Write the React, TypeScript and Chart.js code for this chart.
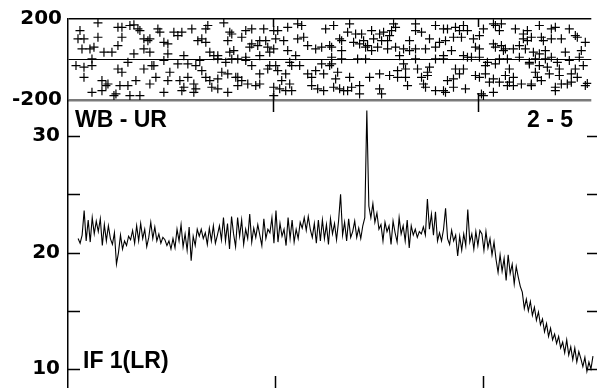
import React, { useEffect, useRef } from "react";
import { Chart, registerables } from "chart.js";

Chart.register(...registerables);

// ---- Data ----
// Amplitude spectrum (channel 0..255)
const amplitude: number[] = [
  21.2, 20.8, 21.5, 23.6, 21.0, 22.8, 20.9, 23.0, 21.6, 22.7,
  21.8, 22.9, 20.6, 22.4, 21.0, 22.3, 21.2, 20.7, 21.7, 19.0,
  20.0, 21.5, 20.3, 21.0, 20.6, 21.4, 21.1, 21.9, 20.8, 22.3,
  21.0, 22.5, 21.2, 22.0, 20.5, 21.3, 22.6, 21.2, 22.2, 21.0,
  21.6, 20.8, 21.3, 21.1, 20.6, 21.0, 20.3, 21.2, 20.4, 22.0,
  21.0, 22.4, 20.5, 21.6, 20.2, 22.2, 19.3, 21.4, 20.6, 22.0,
  21.4, 22.0, 21.2, 21.7, 20.7, 22.1, 21.0, 22.3, 20.8, 21.5,
  22.3, 21.1, 23.0, 21.0, 22.5, 20.3, 23.1, 21.6, 20.5, 23.0,
  21.4, 22.8, 20.7, 22.0, 21.2, 23.3, 20.9, 22.1, 21.3, 22.4,
  21.5, 20.6, 22.9, 21.2, 22.0, 21.7, 23.0, 20.8, 23.6, 20.9,
  22.5, 21.4, 22.0, 20.6, 23.0, 21.2, 22.8, 20.9, 22.0, 21.2,
  22.6, 22.1, 23.0, 21.9, 23.1, 22.0, 21.3, 22.5, 20.8, 22.8,
  21.0, 22.8, 21.2, 22.4, 20.7, 22.9, 21.6, 22.5, 21.1, 22.7,
  25.0, 21.5, 22.6, 21.0, 22.9, 21.3, 21.8, 22.7, 21.3, 22.1,
  21.2, 22.3, 23.0, 32.2, 24.0, 23.0, 24.2, 22.6, 23.4, 22.0,
  22.4, 21.0, 22.6, 21.8, 22.3, 20.7, 22.7, 21.7, 20.9, 23.0,
  21.6, 22.3, 21.0, 22.8, 20.4, 22.3, 21.5, 22.0, 21.3, 21.8,
  21.6, 22.2, 21.5, 24.6, 22.0, 23.3, 21.5, 23.5, 21.0, 21.7,
  21.0, 22.0, 23.8, 21.2, 20.7, 21.9, 21.0, 21.5, 19.7, 21.4,
  20.2, 21.6, 20.6, 23.7, 20.9, 21.6, 20.3, 21.8, 20.6, 21.9,
  21.6, 20.2, 21.8, 20.4, 21.2, 19.8, 20.9, 19.4, 18.3, 19.8,
  18.4, 19.5, 17.6, 19.8, 18.2, 19.0, 17.3, 18.8, 17.9, 17.1,
  16.6, 15.2, 16.0, 15.0, 15.8, 14.6, 15.3, 14.2, 14.9, 13.8,
  14.3, 13.2, 13.9, 12.8, 13.5, 12.5, 13.0, 12.2, 12.8, 11.8,
  12.3, 11.4, 12.5, 11.2, 11.9, 10.8, 11.8, 10.6, 11.5, 10.9,
  10.2, 11.0, 9.8, 10.6, 10.0, 11.1,
];

// Phase scatter: [channel, degrees]
const phasePairs: [number, number][] = [
  [1,143],[10,181],[20,159],[22,159],[26,168],[28,171],[30,151],[31,143],[40,151],[41,135],[48,135],[50,118],[52,135],[57,151],[60,93],
  [0,102],[3,102],[10,110],[22,110],[33,102],[35,93],[36,102],[43,85],[45,77],
  [2,52],[6,52],[8,61],[13,36],[17,36],[20,69],[28,28],[33,52],[36,36],[45,28],[53,19],[7,3],
  [-1,-30],[3,-38],[7,-30],[25,-14],[38,-30],[43,-5],[50,-22],[55,-22],[59,-30],
  [3,-88],[20,-47],[22,-63],[33,-47],[37,-30],[46,-63],[51,-104],[55,-88],[58,-121],
  [12,-104],[14,-129],[15,-121],[21,-129],[25,-129],[29,-104],[36,-121],[39,-88],[45,-104],[53,-137],[59,-145],
  [7,-162],[12,-154],[18,-178],[19,-170],[26,-178],[31,-178],[43,-162],[52,-154],[58,-162],
  [64,151],[65,168],[73,181],[76,135],[77,126],[84,143],[87,151],[93,151],[98,143],[100,143],[105,159],[110,176],[112,168],[124,151],
  [62,102],[75,93],[82,110],[87,77],[91,93],[94,93],[99,102],[103,93],[110,102],[113,110],
  [64,85],[86,61],[90,69],[95,61],[98,52],[115,69],[119,52],[122,61],[126,69],
  [66,36],[68,19],[70,19],[76,36],[78,44],[84,11],[91,19],[96,36],[105,44],[109,19],
  [61,-5],[70,3],[74,-14],[77,3],[80,3],[84,-5],[96,-30],[99,-30],[106,-14],[107,-30],[111,-30],[122,-22],[126,-30],
  [62,-55],[72,-63],[75,-71],[80,-88],[87,-30],[91,-71],[95,-47],[100,-55],[104,-71],[115,-71],[119,-55],[123,-71],
  [64,-88],[66,-104],[70,-96],[79,-88],[82,-104],[85,-121],[89,-129],[91,-121],[102,-104],[106,-121],[117,-88],
  [67,-137],[70,-145],[75,-162],[80,-129],[98,-137],[101,-145],[104,-154],[107,-154],[117,-129],[120,-145],[123,-154],
  [98,-178],
  [128,168],[136,176],[135,135],[139,126],[142,126],[147,143],[151,126],[153,135],[157,143],[158,176],[159,159],[169,176],[169,143],[172,135],[179,168],[183,151],[185,151],[189,159],[191,143],
  [131,102],[132,93],[138,85],[141,77],[143,93],[145,69],[148,102],[152,93],[155,93],[156,118],[166,93],[176,102],[181,85],[184,93],[188,110],
  [127,61],[132,44],[144,61],[147,44],[150,61],[155,52],[159,61],[163,52],[166,44],[169,52],[174,52],[179,61],[183,19],[187,44],
  [127,11],[132,3],[140,3],[144,3],[161,19],[169,3],[179,3],[183,3],
  [127,-22],[163,-22],[164,-47],[170,-47],[176,-38],[189,-47],
  [130,-63],[160,-55],[175,-63],[191,-71],
  [129,-96],[136,-88],[146,-88],[151,-71],[156,-79],[160,-88],[164,-88],[172,-88],[175,-79],[185,-104],[188,-96],
  [128,-137],[131,-145],[133,-154],[135,-154],[137,-137],[141,-129],[141,-170],[151,-145],[152,-170],[165,-129],[173,-121],[174,-137],[179,-154],[183,-154],[184,-162],[188,-137],
  [193,168],[195,143],[203,151],[208,176],[209,168],[212,176],[211,143],[219,151],[223,126],[225,143],[231,168],[237,151],[239,159],[246,151],[249,118],[254,85],
  [192,110],[198,102],[201,118],[208,77],[212,69],[214,52],[221,69],[223,102],[225,93],[227,110],[232,110],[233,93],[237,102],[242,102],[250,110],
  [199,61],[201,52],[209,61],[213,44],[218,52],[224,52],[228,36],[231,28],[234,44],[244,36],[252,44],
  [193,19],[195,11],[197,11],[201,11],[205,-14],[211,3],[215,3],[221,11],[226,-14],[229,3],[234,3],[237,11],[240,-14],[246,-5],[251,11],[253,-30],
  [193,-47],[204,-30],[209,-22],[216,-47],[226,-22],[231,-30],[235,-38],[241,-47],[249,-47],
  [199,-79],[201,-88],[204,-71],[208,-96],[214,-79],[218,-88],[229,-63],[230,-88],[236,-71],[241,-79],[247,-71],[250,-88],
  [194,-145],[206,-112],[211,-112],[215,-129],[216,-112],[218,-129],[222,-121],[227,-121],[227,-129],[232,-104],[239,-137],[242,-121],[245,-121],[247,-112],[254,-129],
  [202,-170],[203,-178],[208,-162],[239,-154],[255,-118],
];

const xRange = [-5, 257];
const xTicks = [97.5, 200.5];
const phaseTicks = [-200, 0, 200];
const ampTicks = [10, 15, 20, 25, 30];
const ampRange = [8.37, 33.1];
const baselineLabel = "2 - 5";
const panelLabel = "WB - UR";
const ifLabel = "IF 1(LR)";

const tickFont = { family: "DejaVu Sans", weight: "bold" as const, size: 20 };
const textFont = "bold 23px 'Liberation Sans', Arial, sans-serif";

const fitY = (s: any) => {
  s.width = 68;
  s.paddingTop = 0;
  s.paddingBottom = 0;
  s.paddingLeft = 0;
  s.paddingRight = 0;
};

export default function App() {
  const topRef = useRef<HTMLCanvasElement>(null);
  const botRef = useRef<HTMLCanvasElement>(null);

  useEffect(() => {
    document.body.style.margin = "0";
    const topDecor = {
      id: "topDecor",
      afterDraw(chart: any) {
        const { ctx, chartArea, scales } = chart;
        ctx.save();
        ctx.strokeStyle = "#000";
        ctx.lineWidth = 1.5;
        xTicks.forEach((v) => {
          const px = Math.round(scales.x.getPixelForValue(v)) + 0.5;
          ctx.beginPath();
          ctx.moveTo(px, chartArea.top);
          ctx.lineTo(px, chartArea.top + 8);
          ctx.moveTo(px, chartArea.bottom - 7);
          ctx.lineTo(px, chartArea.bottom + 12);
          ctx.stroke();
        });
        ctx.restore();
      },
    };
    const botDecor = {
      id: "botDecor",
      afterDraw(chart: any) {
        const { ctx, chartArea, scales } = chart;
        ctx.save();
        ctx.strokeStyle = "#000";
        ctx.lineWidth = 1.5;
        ampTicks.forEach((v) => {
          const py = Math.round(scales.y.getPixelForValue(v)) + 0.5;
          ctx.beginPath();
          ctx.moveTo(chartArea.left, py);
          ctx.lineTo(chartArea.left + 12, py);
          ctx.moveTo(chartArea.right - 10, py);
          ctx.lineTo(chartArea.right, py);
          ctx.stroke();
        });
        xTicks.forEach((v) => {
          const px = Math.round(scales.x.getPixelForValue(v)) + 0.5;
          ctx.beginPath();
          ctx.moveTo(px, chartArea.bottom - 12);
          ctx.lineTo(px, chartArea.bottom);
          ctx.stroke();
        });
        ctx.fillStyle = "#000";
        ctx.font = textFont;
        ctx.textBaseline = "alphabetic";
        ctx.textAlign = "left";
        ctx.fillText(panelLabel, chartArea.left + 7, chartArea.top + 26.5);
        ctx.fillText(ifLabel, chartArea.left + 15, chartArea.top + 267.5);
        ctx.textAlign = "right";
        ctx.fillText(baselineLabel, 573, chartArea.top + 27);
        ctx.restore();
      },
    };

    const top = new Chart(topRef.current!, {
      type: "scatter",
      data: {
        datasets: [
          {
            data: phasePairs.map(([x, y]) => ({ x, y })),
            pointStyle: "cross",
            pointRadius: 4.5,
            borderColor: "#000",
            borderWidth: 1.2,
            backgroundColor: "#000",
          },
        ],
      },
      options: {
        animation: false,
        responsive: false,
        events: [],
        layout: { padding: { top: 19, bottom: 12, left: 0, right: 0 } },
        plugins: { legend: { display: false }, tooltip: { enabled: false } },
        scales: {
          x: { type: "linear", min: xRange[0], max: xRange[1], display: false },
          y: {
            min: -200,
            max: 200,
            afterBuildTicks: (s: any) => {
              s.ticks = phaseTicks.map((value) => ({ value }));
            },
            afterFit: fitY,
            ticks: {
              callback: (v: any) => (v === 0 ? "" : String(v)),
              font: tickFont,
              color: "#000",
              padding: 6,
            },
            grid: {
              drawTicks: false,
              color: (c: any) => (c.tick && c.tick.value === -200 ? "#7a7a7a" : "#000"),
              lineWidth: (c: any) =>
                c.tick && c.tick.value === -200 ? 2.5 : c.tick && c.tick.value === 200 ? 1.5 : 1,
            },
            border: { display: true, color: "#000", width: 1.5 },
          },
        },
      },
      plugins: [topDecor],
    } as any);

    const bot = new Chart(botRef.current!, {
      type: "line",
      data: {
        datasets: [
          {
            data: amplitude.map((y, i) => ({ x: i, y })),
            borderColor: "#000",
            borderWidth: 1.1,
            pointRadius: 0,
            tension: 0,
            fill: false,
          },
        ],
      },
      options: {
        animation: false,
        responsive: false,
        events: [],
        layout: { padding: 0 },
        plugins: { legend: { display: false }, tooltip: { enabled: false } },
        scales: {
          x: { type: "linear", min: xRange[0], max: xRange[1], display: false },
          y: {
            min: ampRange[0],
            max: ampRange[1],
            afterBuildTicks: (s: any) => {
              s.ticks = ampTicks.map((value) => ({ value }));
            },
            afterFit: fitY,
            ticks: {
              callback: (v: any) => (v % 10 === 0 ? String(v) : ""),
              font: tickFont,
              color: "#000",
              padding: 8,
            },
            grid: { display: false, drawTicks: false },
            border: { display: true, color: "#000", width: 1.5 },
          },
        },
      },
      plugins: [botDecor],
    } as any);

    return () => {
      top.destroy();
      bot.destroy();
    };
  }, []);

  return (
    <div style={{ position: "fixed", left: 0, top: 0, width: 597, height: 388, background: "#fff" }}>
      <canvas
        ref={botRef}
        width={597}
        height={288}
        style={{ position: "absolute", left: 0, top: 100, width: 597, height: 288, display: "block" }}
      />
      <canvas
        ref={topRef}
        width={597}
        height={112}
        style={{ position: "absolute", left: 0, top: 0, width: 597, height: 112, display: "block" }}
      />
    </div>
  );
}
